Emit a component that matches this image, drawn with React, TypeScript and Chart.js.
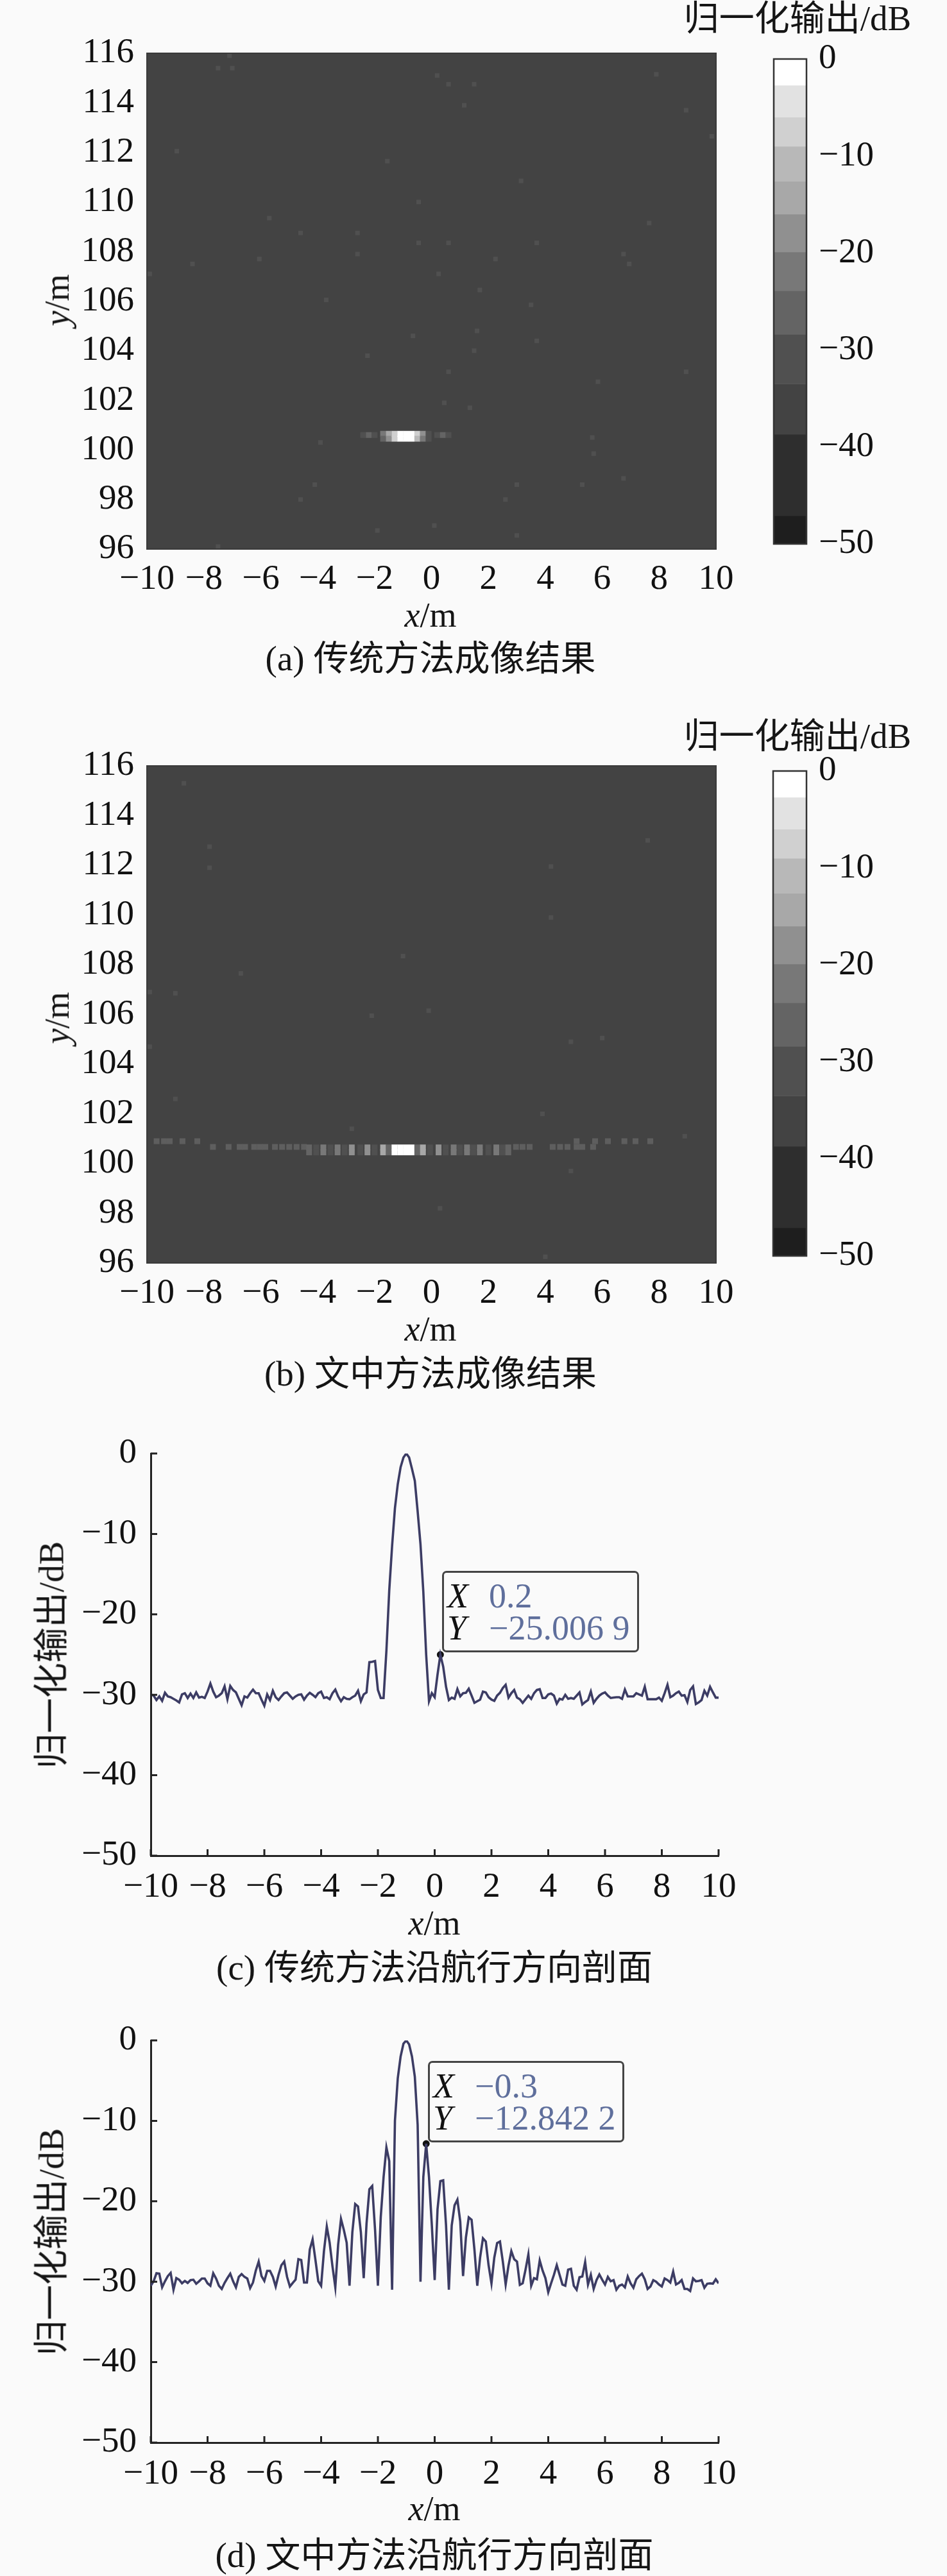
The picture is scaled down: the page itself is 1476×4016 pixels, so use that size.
import React, { useEffect, useRef } from "react";
import { Chart, registerables } from "chart.js";

Chart.register(...registerables);

const xTicksMeters = [-10, -8, -6, -4, -2, 0, 2, 4, 6, 8, 10];
const profileX = Array.from({ length: 201 }, (_, i) => (i - 100) / 10);

const profileC = [
  -29.95, -30.1, -30.65, -30.2, -30.75, -29.75, -30.2, -30.3, -30.5, -30.7,
  -30.95, -29.95, -29.8, -30.4, -29.85, -30.4, -29.7, -30.35, -30.25, -30.4,
  -29.6, -28.6, -29.6, -30.3, -30.1, -29.8, -28.95, -30.55, -28.9, -29.4,
  -29.7, -30.5, -31.3, -30.2, -30.35, -29.8, -29.35, -29.8, -29.8, -30.6,
  -31.35, -29.95, -30.65, -29.5, -30.3, -30.65, -30.2, -29.8, -29.7, -30.1,
  -30.5, -30.2, -30, -29.95, -30.6, -30.1, -29.75, -30, -30.3, -29.8,
  -29.6, -30.4, -30.3, -30.55, -29.8, -29.35, -30.2, -30.8, -30.3, -30.5,
  -30.55, -30.3, -30.1, -29.5, -30.8, -29.95, -29.7, -25.95, -25.9, -25.8,
  -29.4, -30.4, -30.4, -24.5, -17, -11.5, -6.8, -3.8, -1.7, -0.5,
  0, -0.5, -1.9, -3.4, -7.2, -11.3, -17.2, -25, -30.8, -29.8,
  -30.3, -27.5, -25.0069, -26.5, -29, -30.65, -30.35, -30.5, -29.3, -30.2,
  -29.8, -29.75, -29.25, -30.1, -31, -30.8, -30.6, -29.6, -29.7, -30.3,
  -30.6, -30.75, -30.1, -29.75, -29.15, -28.75, -30.35, -29.8, -29.4, -30.35,
  -30.55, -31, -30.55, -30.1, -30.5, -29.8, -29.4, -29.3, -30.4, -30.4,
  -29.95, -29.85, -30.1, -31.1, -30.5, -30.6, -30, -30.5, -30.4, -30.5,
  -30.1, -29.7, -31.2, -30.9, -30.65, -29.6, -31, -30.5, -30.1, -29.85,
  -29.7, -30.1, -30.4, -30.35, -30.3, -30.3, -30.5, -29.35, -30.2, -30.2,
  -30.2, -29.8, -29.95, -30.1, -29, -30.55, -30.55, -30.55, -30.55, -30.35,
  -30.75, -29.8, -28.75, -30.3, -30.1, -29.8, -29.6, -30.1, -30.05, -30.9,
  -29.4, -28.95, -31.15, -30.95, -30.65, -29.5, -30.1, -29, -29.7, -30.35,
  -30.35,
];

const profileD = [
  -30.5, -29.95, -28.95, -29, -30.7, -29.95, -29.3, -28.9, -31, -29.55,
  -29.75, -30.2, -29.9, -30.15, -29.8, -29.75, -30.25, -29.95, -29.6, -29.6,
  -30.2, -30.5, -28.95, -29.6, -30.5, -30.9, -30.15, -29.55, -29, -29.95,
  -30.7, -29.4, -29.05, -29.4, -29.6, -30.8, -30.1, -28.6, -27.5, -29.3,
  -29.9, -28.65, -28.65, -29.4, -30.6, -29.15, -27.95, -27.5, -29.4, -30.6,
  -30.15, -29.75, -27.2, -27.3, -30.1, -30.1, -26, -24.75, -27.3, -29.95,
  -30.5, -26.2, -23.15, -25.15, -28.1, -30.7, -25.4, -22.2, -23.55, -25.15,
  -30.5, -23.85, -20.35, -20.65, -23.85, -29.55, -22.75, -18.5, -18.1, -23.55,
  -30.5, -22, -17, -13.3, -15, -31, -10, -4.7, -2, -0.4,
  0, -0.5, -2, -4.5, -10.5, -30, -17, -12.8422, -17, -23,
  -29.8, -21, -17.5, -17.4, -23, -31, -23, -20.5, -19.8, -22.5,
  -29.3, -24.5, -22, -22.3, -26, -30.5, -27, -24.6, -25, -28,
  -30.2, -27, -25.2, -25, -27.5, -30.35, -28, -26.2, -27.2, -27.5,
  -30.4, -30.2, -28.5, -26.6, -30.5, -29.55, -29.7, -27.35, -28.6, -29.55,
  -31.3, -30.2, -29.15, -27.95, -29.15, -30.35, -30.5, -28.5, -28.4, -30.5,
  -31, -29.45, -29.35, -27.55, -30.35, -29.15, -30.9, -29.8, -29.1, -29.75,
  -30.35, -29.4, -29.95, -29.8, -31, -30.5, -30.35, -30.7, -29.35, -30.2,
  -30.75, -29.7, -29.3, -29, -29.7, -30.9, -30.6, -29.8, -30, -30.35,
  -30.6, -29.6, -29.8, -30.1, -28.75, -30.35, -30.15, -29.8, -30.9, -30.9,
  -31.15, -29.6, -29.95, -29.9, -29.8, -30.75, -30.25, -30.2, -30.25, -29.7,
  -30.2,
];

// [x (m), y (m), level (dB)]
const speckleA: number[][] = [
  [-7.1, 115.9], [-7.5, 115.4], [-7, 115.4], [0.2, 115.1], [0.6, 114.75], [1.5, 114.75],
  [7.9, 115.15], [1.15, 113.9], [8.95, 113.7], [-8.95, 112.05], [-1.55, 111.65], [9.85, 112.65],
  [3.15, 110.85], [-0.45, 110], [-5.7, 109.35], [7.65, 109.15], [-4.6, 108.75], [-2.6, 108.75],
  [-2.6, 107.9], [-0.45, 108.35], [0.6, 108.35], [3.7, 108.35], [-6.05, 107.7], [2.25, 107.7],
  [6.75, 107.9], [6.95, 107.5], [-8.4, 107.5], [0.25, 107.1], [-9.9, 107.1], [-3.7, 106.05],
  [1.7, 106.45], [3.5, 105.85], [1.6, 104.8], [-0.65, 104.6], [3.7, 104.4], [1.5, 104],
  [-2.25, 103.8], [0.6, 103.15], [8.95, 103.15], [5.85, 102.75], [0.45, 101.9], [1.35, 101.7],
  [-3.9, 100.3], [5.65, 100.5], [5.7, 99.85], [6.75, 98.85], [-4.1, 98.6], [3, 98.6],
  [5.3, 98.6], [-4.6, 98], [2.6, 98], [-1.9, 96.75], [0.1, 96.95], [3, 96.55], [-7.5, 96.1],
];
const streakA: number[][] = [
  [-2.4, 100.6, -30], [-2.2, 100.6, -26], [-2, 100.6, -30],
  [-1.7, 100.65, -22], [-1.5, 100.65, -14], [-1.3, 100.65, -8], [-1.1, 100.65, -1], [-0.9, 100.65, 0],
  [-0.7, 100.65, -1], [-0.5, 100.65, -8], [-0.3, 100.65, -18], [-0.1, 100.65, -30],
  [-1.7, 100.45, -26], [-1.5, 100.45, -18], [-1.3, 100.45, -8], [-1.1, 100.45, 0], [-0.9, 100.45, 0],
  [-0.7, 100.45, -1], [-0.5, 100.45, -11], [-0.3, 100.45, -22], [-0.1, 100.45, -30],
  [0.2, 100.6, -30], [0.4, 100.6, -26], [0.6, 100.6, -30],
];
const speckleB: number[][] = [
  [-8.7, 115.3], [-7.8, 112.75], [-7.8, 111.9], [7.6, 113], [4.2, 111.95], [4.2, 109.9],
  [-6.7, 107.65], [-1, 108.35], [-9.9, 106.9], [-9, 106.85], [-2.1, 105.95], [-0.1, 106.15],
  [4.9, 104.9], [6, 105.05], [-9.9, 104.7], [-9, 102.6], [3.9, 102], [-2.8, 101.4],
  [8.9, 101.1], [4.9, 99.7], [0.3, 98.2], [4, 96.25],
];
const sideRowB: number[][] = [
  [-9.66, 100.9], [-9.4, 100.9], [-9.2, 100.9], [-8.75, 100.9], [-8.23, 100.9], [5.1, 100.9],
  [5.75, 100.9], [6.2, 100.9], [6.78, 100.9], [7.17, 100.9], [7.69, 100.9],
  [-7.68, 100.67], [-7.13, 100.67], [-6.74, 100.67], [-6.55, 100.67], [-6.23, 100.67], [-6.03, 100.67],
  [-5.84, 100.67], [-5.5, 100.67], [-5.25, 100.67], [-5, 100.67], [-4.74, 100.67], [-4.48, 100.67],
  [2.97, 100.67], [3.2, 100.67], [3.45, 100.67], [4.26, 100.67], [4.52, 100.67], [4.78, 100.67],
  [5.1, 100.67], [5.3, 100.67], [5.68, 100.67],
];
const lobeRowsB = [100.65, 100.45];
const lobeXB = [-4.3, -4.05, -3.8, -3.55, -3.3, -3.05, -2.8, -2.5, -2.25, -2, -1.7, -1.5, -1.3, -1.1, -0.9, -0.7, -0.5, -0.3, -0.05, 0.25, 0.5, 0.78, 1, 1.25, 1.47, 1.7, 2, 2.28, 2.5, 2.7];
const lobeDbB = [-26, -30, -22, -30, -22, -30, -18, -30, -18, -30, -14, -26, -1, 0, 0, -1, -26, -14, -30, -18, -30, -22, -30, -22, -30, -22, -30, -22, -30, -26];

const colorbarEdges = [0, -2.7, -6, -9, -12.6, -16, -19.9, -23.9, -28.4, -33.5, -38.7, -47.1, -50];
const colorbarGrays = ["#ffffff", "#e2e2e2", "#d0d0d0", "#b8b8b8", "#a8a8a8", "#909090", "#787878", "#646464", "#505050", "#434343", "#2e2e2e", "#1e1e1e"];

const SERIF = '"Liberation Serif", "Noto Sans CJK SC", serif';
const PAGE_BG = "#fafafa";
const W = 1476;
const TICK_SIZE = 55;

const levelColor = (db: number) => {
  for (let i = 0; i < colorbarGrays.length; i++) {
    if (db <= colorbarEdges[i] && db >= colorbarEdges[i + 1]) return colorbarGrays[i];
  }
  return colorbarGrays[9];
};
const minusTick = (v: number | string) => String(v).replace("-", "\u2212");

const fillPlot = (color: string) => ({
  id: "fillPlot",
  beforeDatasetsDraw(c: any) {
    const a = c.chartArea;
    c.ctx.save();
    c.ctx.fillStyle = color;
    c.ctx.fillRect(a.left, a.top, a.width, a.height);
    c.ctx.restore();
  },
});
const framePlot = (color: string, lw: number) => ({
  id: "framePlot",
  afterDraw(c: any) {
    const a = c.chartArea;
    c.ctx.save();
    c.ctx.strokeStyle = color;
    c.ctx.lineWidth = lw;
    c.ctx.strokeRect(a.left, a.top, a.width, a.height);
    c.ctx.restore();
  },
});
const inwardTicks = {
  id: "inwardTicks",
  afterDraw(c: any) {
    const { ctx, chartArea: a, scales } = c;
    ctx.save();
    ctx.strokeStyle = "#222";
    ctx.lineWidth = 3;
    ctx.beginPath();
    scales.x.ticks.forEach((t: any) => {
      const p = scales.x.getPixelForValue(t.value);
      ctx.moveTo(p, a.bottom);
      ctx.lineTo(p, a.bottom - 10);
    });
    scales.y.ticks.forEach((t: any) => {
      const p = scales.y.getPixelForValue(t.value);
      ctx.moveTo(a.left, p);
      ctx.lineTo(a.left + 10, p);
    });
    ctx.stroke();
    ctx.restore();
  },
};

type Box = { left: number; top: number; width: number; height: number; pl: number; pr: number; pt: number; pb: number };

const axisOptions = (box: Box, xMin: number, xMax: number, yMin: number, yMax: number, xStep: number, yStep: number, border: any, padX: number, padY: number) => ({
  x: {
    type: "linear",
    min: xMin,
    max: xMax,
    afterFit: (s: any) => { s.height = box.height - box.pb; },
    afterBuildTicks: (s: any) => { s.ticks = xTicksMeters.map((value) => ({ value })); },
    grid: { drawOnChartArea: false, drawTicks: false },
    border,
    ticks: { stepSize: xStep, autoSkip: false, maxRotation: 0, padding: padX, color: "#111", font: { family: SERIF, size: TICK_SIZE }, callback: minusTick },
  },
  y: {
    type: "linear",
    min: yMin,
    max: yMax,
    afterFit: (s: any) => { s.width = box.pl; },
    grid: { drawOnChartArea: false, drawTicks: false },
    border,
    ticks: { stepSize: yStep, autoSkip: false, padding: padY, color: "#111", font: { family: SERIF, size: TICK_SIZE }, callback: minusTick },
  },
});

const common = (box: Box) => ({
  responsive: false,
  animation: false,
  devicePixelRatio: 1,
  events: [],
  layout: { padding: { left: 0, top: box.pt, right: box.width - box.pr, bottom: 0 } },
  plugins: { legend: { display: false }, tooltip: { enabled: false }, title: { display: false } },
});

const useChart = (make: (canvas: HTMLCanvasElement) => Chart) => {
  const ref = useRef<HTMLCanvasElement>(null);
  useEffect(() => {
    const chart = make(ref.current as HTMLCanvasElement);
    return () => chart.destroy();
  }, []);
  return ref;
};

const canvasStyle = (b: { left: number; top: number; width: number; height: number }): React.CSSProperties => ({
  position: "absolute", left: b.left, top: b.top, width: b.width, height: b.height, display: "block",
});

function Heatmap({ box, speckle, cells }: { box: Box; speckle: number[][]; cells: number[][] }) {
  const ref = useChart((canvas) => {
    const sp = speckle.map(([x, y]) => ({ x, y }));
    const ce = cells.map(([x, y]) => ({ x, y }));
    return new Chart(canvas, {
      type: "scatter",
      data: {
        datasets: [
          { data: sp, pointStyle: "rect", pointRadius: 5, pointBackgroundColor: "#505050", pointBorderWidth: 0 },
          { data: ce, pointStyle: "rect", pointRadius: 6.4, pointBackgroundColor: cells.map((c) => (c[2] === undefined ? "#5e5e5e" : levelColor(c[2]))), pointBorderWidth: 0 },
        ],
      },
      options: { ...common(box), scales: axisOptions(box, -10, 10, 96, 116, 2, 2, { display: false }, 15, 20) },
      plugins: [fillPlot("#434343"), framePlot("#3a3a3a", 2)],
    } as any);
  });
  return <canvas ref={ref} width={box.width} height={box.height} style={canvasStyle(box)} />;
}

function Colorbar({ box }: { box: Box }) {
  const ref = useChart((canvas) =>
    new Chart(canvas, {
      type: "bar",
      data: {
        labels: ["dB"],
        datasets: colorbarGrays.map((g, i) => ({
          data: [[colorbarEdges[i + 1], colorbarEdges[i]]],
          backgroundColor: g,
          borderWidth: 0,
          barPercentage: 1,
          categoryPercentage: 1,
          grouped: false,
        })),
      },
      options: {
        ...common(box),
        layout: { padding: { left: box.pl, top: box.pt, right: 0, bottom: box.height - box.pb } },
        scales: {
          x: { display: false },
          y: {
            position: "right",
            min: -50,
            max: 0,
            afterFit: (s: any) => { s.width = box.width - box.pr; },
            grid: { drawOnChartArea: false, drawTicks: false },
            border: { display: false },
            ticks: { stepSize: 10, padding: 19, color: "#111", font: { family: SERIF, size: TICK_SIZE }, callback: minusTick },
          },
        },
      },
      plugins: [framePlot("#333333", 2.5)],
    } as any)
  );
  return <canvas ref={ref} width={box.width} height={box.height} style={canvasStyle(box)} />;
}

function Profile({ box, values, tipX, tipY }: { box: Box; values: number[]; tipX: number; tipY: number }) {
  const ref = useChart((canvas) =>
    new Chart(canvas, {
      type: "line",
      data: {
        datasets: [
          { data: profileX.map((x, i) => ({ x, y: values[i] })), borderColor: "#3c3c64", borderWidth: 3.6, pointRadius: 0, tension: 0 },
          { data: [{ x: tipX, y: tipY }], showLine: false, pointRadius: 6.5, pointBackgroundColor: "#111", pointBorderColor: "#fafafa", pointBorderWidth: 2 },
        ],
      },
      options: {
        ...common(box),
        scales: axisOptions(box, -10, 10, -50, 0, 2, 10, { display: true, color: "#222", width: 3 }, 17, 22),
      },
      plugins: [inwardTicks],
    } as any)
  );
  return <canvas ref={ref} width={box.width} height={box.height} style={canvasStyle(box)} />;
}

const Label = ({ cx, cy, rotate, children, size = 54 }: any) => (
  <div
    style={{
      position: "absolute", left: cx, top: cy, whiteSpace: "nowrap", lineHeight: 1, fontSize: size,
      fontFamily: SERIF, color: "#151515",
      transform: `translate(-50%, -50%)${rotate ? " rotate(-90deg)" : ""}`,
    }}
  >
    {children}
  </div>
);

const DataTip = ({ left, top, width, height, xText, yText }: any) => {
  const row = (name: string, value: string, baseTop: number) => (
    <div style={{ position: "absolute", left: 5, top: baseTop, lineHeight: 1, whiteSpace: "nowrap", fontSize: 54, fontFamily: SERIF }}>
      <i style={{ color: "#111", display: "inline-block", width: 65 }}>{name}</i>
      <span style={{ color: "#5f6f9c" }}>{value}</span>
    </div>
  );
  return (
    <div style={{ position: "absolute", left, top, width, height, boxSizing: "border-box", border: "3px solid #444", borderRadius: 7, background: PAGE_BG }}>
      {row("X", xText, 9)}
      {row("Y", yText, 59)}
    </div>
  );
};

const boxA: Box = { left: 0, top: 0, width: W, height: 1000, pl: 229, pr: 1116, pt: 83, pb: 856 };
const boxB: Box = { left: 0, top: 1120, width: W, height: 920, pl: 229, pr: 1116, pt: 74, pb: 849 };
const boxC: Box = { left: 0, top: 2200, width: W, height: 770, pl: 235, pr: 1120, pt: 66, pb: 693 };
const boxD: Box = { left: 0, top: 3120, width: W, height: 770, pl: 235, pr: 1120, pt: 61, pb: 688 };
const barA: Box = { left: 1190, top: 40, width: 286, height: 860, pl: 16, pr: 67, pt: 46, pb: 810 };
const barB: Box = { left: 1190, top: 1150, width: 286, height: 860, pl: 15, pr: 67, pt: 50, pb: 815 };

const lobeCellsB = lobeRowsB.flatMap((y) => lobeXB.map((x, i) => [x, y, lobeDbB[i]]));

const AxisX = () => <><i>x</i>/m</>;
const AxisY = () => <><i>y</i>/m</>;

export default function App() {
  return (
    <div style={{ position: "absolute", left: 0, top: 0, width: W, height: 4016, background: PAGE_BG, overflow: "hidden" }}>
      <Heatmap box={boxA} speckle={speckleA} cells={streakA} />
      <Colorbar box={barA} />
      <Label cx={1243} cy={28} size={55}>归一化输出/dB</Label>
      <Label cx={89} cy={468} rotate><AxisY /></Label>
      <Label cx={671} cy={959}><AxisX /></Label>
      <Label cx={671} cy={1026} size={55}>(a) 传统方法成像结果</Label>

      <Heatmap box={boxB} speckle={speckleB} cells={[...sideRowB, ...lobeCellsB]} />
      <Colorbar box={barB} />
      <Label cx={1243} cy={1147} size={55}>归一化输出/dB</Label>
      <Label cx={89} cy={1587} rotate><AxisY /></Label>
      <Label cx={671} cy={2072}><AxisX /></Label>
      <Label cx={671} cy={2141} size={55}>(b) 文中方法成像结果</Label>

      <Profile box={boxC} values={profileC} tipX={0.2} tipY={-25.0069} />
      <DataTip left={689} top={2449} width={307} height={127} xText="0.2" yText={"\u221225.006 9"} />
      <Label cx={80} cy={2580} size={55} rotate>归一化输出/dB</Label>
      <Label cx={677} cy={2998}><AxisX /></Label>
      <Label cx={677} cy={3067} size={55}>(c) 传统方法沿航行方向剖面</Label>

      <Profile box={boxD} values={profileD} tipX={-0.3} tipY={-12.8422} />
      <DataTip left={667} top={3213} width={306} height={127} xText={"\u22120.3"} yText={"\u221212.842 2"} />
      <Label cx={80} cy={3495} size={55} rotate>归一化输出/dB</Label>
      <Label cx={677} cy={3911}><AxisX /></Label>
      <Label cx={677} cy={3983} size={55}>(d) 文中方法沿航行方向剖面</Label>
    </div>
  );
}
